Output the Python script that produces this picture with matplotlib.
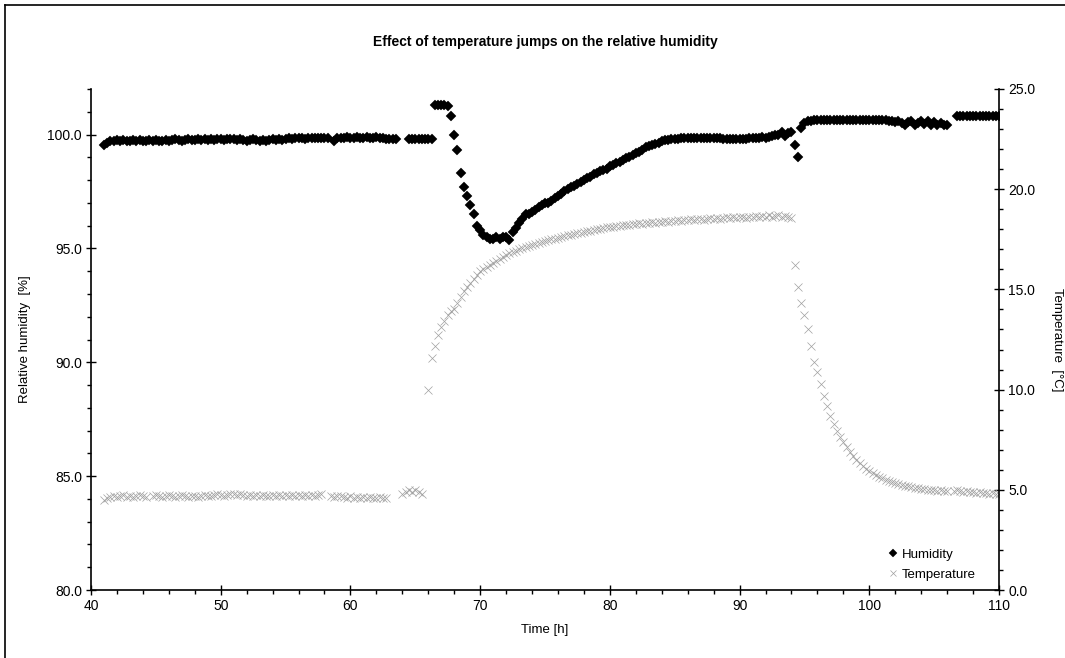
import numpy as np
import matplotlib
matplotlib.use("Agg")
import matplotlib.pyplot as plt
from matplotlib.ticker import MultipleLocator, FormatStrFormatter
from matplotlib.lines import Line2D

plt.rcParams['font.family'] = ['Liberation Sans', 'DejaVu Sans']

nan = np.nan
# time grid: 41.0 h to 110.0 h, sampled every 0.25 h
time_start = 41.0
time_step = 0.25

humidity = [
    # 41.00 - 45.75
    99.55, 99.65, 99.7, 99.7, 99.75, 99.7, 99.75, 99.7, 99.7, 99.75,
    99.7, 99.75, 99.7, 99.7, 99.75, 99.7, 99.75, 99.7, 99.7, 99.75,
    # 46.00 - 50.75
    99.7, 99.75, 99.8, 99.75, 99.7, 99.75, 99.8, 99.75, 99.75, 99.8,
    99.75, 99.8, 99.75, 99.8, 99.75, 99.8, 99.8, 99.75, 99.8, 99.8,
    # 51.00 - 55.75
    99.8, 99.75, 99.8, 99.75, 99.7, 99.75, 99.8, 99.75, 99.7, 99.75,
    99.7, 99.75, 99.8, 99.75, 99.8, 99.75, 99.8, 99.85, 99.8, 99.85,
    # 56.00 - 60.75
    99.85, 99.85, 99.8, 99.85, 99.85, 99.85, 99.85, 99.85, 99.85, 99.85,
    nan, 99.7, 99.85, 99.85, 99.85, 99.9, 99.85, 99.85, 99.9, 99.85,
    # 61.00 - 65.75
    99.85, 99.9, 99.85, 99.85, 99.9, 99.85, 99.85, 99.8, 99.8, 99.8,
    99.8, nan, nan, nan, 99.8, 99.8, 99.8, 99.8, 99.8, 99.8,
    # 66.00 - 70.75
    99.8, 99.8, 101.3, 101.3, 101.3, 101.3, 101.25, 100.8, 100.0, 99.3,
    98.3, 97.7, 97.3, 96.9, 96.5, 96.0, 95.8, 95.6, 95.5, 95.4,
    # 71.00 - 75.75
    95.4, 95.5, 95.4, 95.5, 95.5, 95.35, 95.7, 95.9, 96.1, 96.3,
    96.5, 96.5, 96.6, 96.7, 96.8, 96.9, 97.0, 97.0, 97.1, 97.2,
    # 76.00 - 80.75
    97.3, 97.4, 97.5, 97.6, 97.7, 97.75, 97.85, 97.9, 98.0, 98.1,
    98.15, 98.25, 98.3, 98.4, 98.45, 98.5, 98.6, 98.65, 98.75, 98.8,
    # 81.00 - 85.75
    98.9, 98.95, 99.0, 99.1, 99.2, 99.25, 99.3, 99.45, 99.5, 99.55,
    99.6, 99.65, 99.7, 99.75, 99.75, 99.8, 99.8, 99.8, 99.85, 99.85,
    # 86.00 - 90.75
    99.85, 99.85, 99.85, 99.85, 99.85, 99.85, 99.85, 99.85, 99.85, 99.85,
    99.85, 99.8, 99.8, 99.8, 99.8, 99.8, 99.8, 99.8, 99.8, 99.85,
    # 91.00 - 95.75
    99.85, 99.85, 99.85, 99.9, 99.85, 99.9, 99.95, 100.0, 100.0, 100.1,
    99.95, 100.05, 100.1, 99.55, 99.0, 100.3, 100.5, 100.6, 100.6, 100.65,
    # 96.00 - 100.75
    100.65, 100.65, 100.65, 100.65, 100.65, 100.65, 100.65, 100.65, 100.65, 100.65,
    100.65, 100.65, 100.65, 100.65, 100.65, 100.65, 100.65, 100.65, 100.65, 100.65,
    # 101.00 - 105.75
    100.65, 100.65, 100.6, 100.6, 100.55, 100.6, 100.5, 100.4, 100.55, 100.6,
    100.4, 100.5, 100.6, 100.45, 100.6, 100.4, 100.55, 100.4, 100.5, 100.4,
    # 106.00 - 110.00
    100.4, nan, nan, 100.8, 100.8, 100.8, 100.8, 100.8, 100.8, 100.8,
    100.8, 100.8, 100.8, 100.8, 100.8, 100.8, 100.8,
]

temperature = [
    # 41.00 - 45.75
    4.5, 4.6, 4.65, 4.7, 4.65, 4.7, 4.75, 4.65, 4.7, 4.65,
    4.7, 4.75, 4.7, 4.65, nan, 4.7, 4.75, 4.7, 4.65, 4.7,
    # 46.00 - 50.75
    4.75, 4.7, 4.65, 4.7, 4.75, 4.7, 4.65, 4.7, 4.7, 4.65,
    4.7, 4.75, 4.7, 4.7, 4.75, 4.8, 4.75, 4.7, 4.75, 4.8,
    # 51.00 - 55.75
    4.8, 4.75, 4.8, 4.75, 4.7, 4.75, 4.7, 4.75, 4.7, 4.75,
    4.7, 4.7, 4.75, 4.7, 4.75, 4.7, 4.75, 4.7, 4.75, 4.7,
    # 56.00 - 60.75
    4.75, 4.7, 4.75, 4.7, 4.75, 4.7, 4.75, 4.8, nan, nan,
    4.7, 4.65, 4.7, 4.7, 4.65, 4.6, 4.7, 4.6, 4.65, 4.6,
    # 61.00 - 65.75
    4.65, 4.6, 4.65, 4.6, 4.6, 4.65, 4.6, 4.6, nan, nan,
    nan, nan, 4.8, 4.9, 5.0, 4.9, 5.0, 4.9, 4.8, nan,
    # 66.00 - 70.75
    10.0, 11.6, 12.2, 12.7, 13.1, 13.4, 13.7, 13.9, 14.0, 14.3,
    14.6, 14.9, 15.1, 15.3, 15.5, 15.7, 15.9, 16.0, 16.1, 16.2,
    # 71.00 - 75.75
    16.3, 16.4, 16.5, 16.6, 16.7, 16.8, 16.85, 16.9, 17.0, 17.05,
    17.1, 17.15, 17.2, 17.25, 17.3, 17.35, 17.4, 17.45, 17.5, 17.5,
    # 76.00 - 80.75
    17.55, 17.6, 17.65, 17.7, 17.7, 17.75, 17.8, 17.8, 17.85, 17.9,
    17.9, 17.95, 18.0, 18.0, 18.05, 18.1, 18.1, 18.1, 18.15, 18.15,
    # 81.00 - 85.75
    18.2, 18.2, 18.2, 18.25, 18.25, 18.3, 18.25, 18.3, 18.3, 18.35,
    18.3, 18.35, 18.35, 18.4, 18.35, 18.4, 18.4, 18.45, 18.4, 18.45,
    # 86.00 - 90.75
    18.45, 18.5, 18.45, 18.5, 18.5, 18.45, 18.5, 18.55, 18.5, 18.55,
    18.5, 18.55, 18.6, 18.55, 18.6, 18.55, 18.6, 18.6, 18.55, 18.6,
    # 91.00 - 95.75
    18.6, 18.65, 18.6, 18.65, 18.6, 18.7, 18.6, 18.65, 18.7, 18.6,
    18.65, 18.6, 18.55, 16.2, 15.1, 14.3, 13.7, 13.0, 12.2, 11.4,
    # 96.00 - 100.75
    10.9, 10.3, 9.7, 9.2, 8.7, 8.3, 7.95, 7.65, 7.4, 7.15,
    6.9, 6.7, 6.5, 6.35, 6.2, 6.05, 5.95, 5.85, 5.75, 5.65,
    # 101.00 - 105.75
    5.6, 5.5, 5.45, 5.4, 5.35, 5.3, 5.25, 5.2, 5.2, 5.15,
    5.1, 5.1, 5.05, 5.05, 5.0, 5.0, 5.0, 4.95, 5.0, 4.95,
    # 106.00 - 110.00
    4.95, nan, 4.95, 5.0, 4.95, 4.9, 4.95, 4.9, 4.9, 4.85,
    4.9, 4.85, 4.85, 4.8, 4.85, 4.8, 4.8,
]

time_h = time_start + time_step * np.arange(len(humidity))

W, H = 1065, 658
fig = plt.figure(figsize=(W / 100, H / 100), dpi=100)
ax = fig.add_axes([91 / W, 1 - 590 / H, (999 - 91) / W, (590 - 89) / H])
ax2 = ax.twinx()

# outer frame (left and top visible)
fig.add_artist(Line2D([5 / W, 5 / W], [0, 1 - 5 / H], transform=fig.transFigure,
                      color='black', lw=1.2))
fig.add_artist(Line2D([5 / W, 1], [1 - 5 / H, 1 - 5 / H], transform=fig.transFigure,
                      color='black', lw=1.2))

h_line, = ax.plot(time_h, humidity, linestyle='none', marker='D', markersize=5.4,
                  color='black', markeredgewidth=0.3, label='Humidity', zorder=3)
t_line, = ax2.plot(time_h, temperature, linestyle='none', marker='x', markersize=6,
                   markeredgewidth=0.5, color='#a0a0a0', label='Temperature')

ax.set_xlim(40, 110)
ax.set_ylim(80, 102)
ax2.set_ylim(0, 25)

ax.xaxis.set_major_locator(MultipleLocator(10))
ax.xaxis.set_minor_locator(MultipleLocator(2))
ax.yaxis.set_major_locator(MultipleLocator(5))
ax.yaxis.set_minor_locator(MultipleLocator(1))
ax.yaxis.set_major_formatter(FormatStrFormatter('%.1f'))
ax2.yaxis.set_major_locator(MultipleLocator(5))
ax2.yaxis.set_minor_locator(MultipleLocator(1))
ax2.yaxis.set_major_formatter(FormatStrFormatter('%.1f'))

for a in (ax, ax2):
    a.spines['top'].set_visible(False)
    for s in a.spines.values():
        s.set_linewidth(1.2)
    a.patch.set_visible(False)
ax.spines['right'].set_visible(False)
ax2.spines['left'].set_visible(False)
ax2.spines['bottom'].set_visible(False)

ax.tick_params(axis='both', which='major', direction='inout', length=7, width=1,
               labelsize=10, pad=3)
ax.tick_params(axis='both', which='minor', direction='out', length=3, width=1)
ax2.tick_params(axis='y', which='major', direction='inout', length=7, width=1,
                labelsize=10, pad=3)
ax2.tick_params(axis='y', which='minor', direction='out', length=3, width=1)

ax.set_xlabel('Time [h]', fontsize=9.5, labelpad=8)
ax.set_ylabel('Relative humidity  [%]', fontsize=9.5, labelpad=12)
ax2.set_ylabel('Temperature  [°C]', fontsize=9.5, rotation=270, labelpad=20)

fig.text(545 / W, 1 - 42 / H, 'Effect of temperature jumps on the relative humidity',
         ha='center', va='center', fontsize=10, fontweight='bold')

ax2.legend([h_line, t_line], ['Humidity', 'Temperature'], loc='lower right',
           bbox_to_anchor=(0.985, 0.0), frameon=False, fontsize=9.5,
           handlelength=0.8, handletextpad=0.3, labelspacing=0.6,
           borderaxespad=0.3, markerscale=0.8)

fig.savefig('out.png', dpi=100)
